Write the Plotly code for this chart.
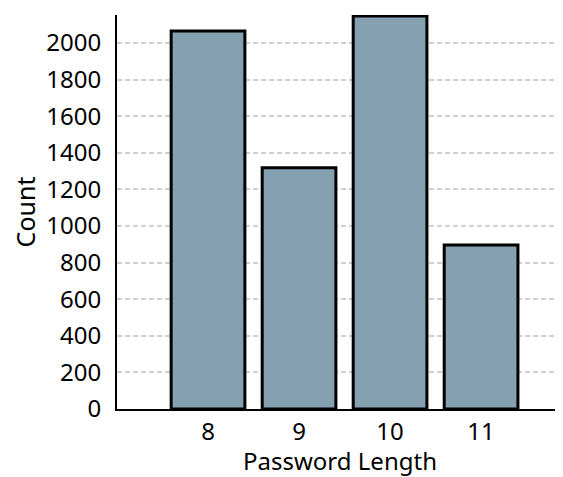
import plotly.graph_objects as go

lengths = [8, 9, 10, 11]
counts = [2066, 1318, 2148, 896]
tick_vals = [0, 200, 400, 600, 800, 1000, 1200, 1400, 1600, 1800, 2000]

font = "Noto Sans, sans-serif"

fig = go.Figure(go.Bar(
    x=lengths, y=counts, width=0.81,
    marker=dict(color="#84A0B1", line=dict(color="black", width=3)),
))
fig.update_layout(
    width=555, height=469,
    margin=dict(l=109, r=0, t=7, b=68),
    plot_bgcolor="white", paper_bgcolor="white",
    font=dict(family=font, size=24, color="black"),
    showlegend=False,
)
fig.update_xaxes(
    range=[7.0, 11.9], tickvals=lengths, showgrid=False,
    showline=True, linecolor="black", linewidth=2, zeroline=False,
    ticks="", ticklen=0,
    title=dict(text="Password Length", standoff=2, font=dict(size=24)),
)
fig.update_yaxes(
    range=[0, 2153], tickvals=tick_vals, showgrid=True,
    gridcolor="#d0d0d0", griddash="5px,3px", gridwidth=2,
    showline=True, linecolor="black", linewidth=2, zeroline=False,
    ticks="", ticklabelstandoff=9,
    title=dict(text="Count", standoff=10, font=dict(size=25)),
)
fig.write_html("out.html")
